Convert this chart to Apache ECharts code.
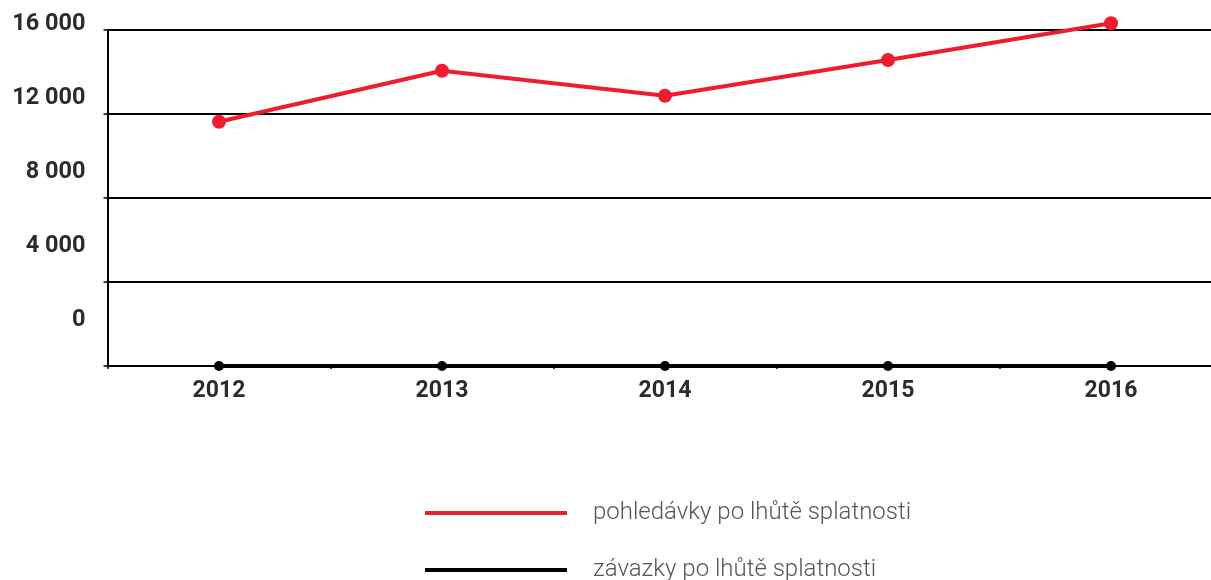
<!DOCTYPE html>
<html>
<head>
<meta charset="utf-8">
<script src="https://cdn.jsdelivr.net/npm/echarts@6/dist/echarts.min.js"></script>
<style>
html,body{margin:0;padding:0;background:#fff;}
#chart{width:1211px;height:580px;}
</style>
</head>
<body>
<div id="chart"></div>
<script>
const years = ['2012', '2013', '2014', '2015', '2016'];
const pohledavky = [11630, 14060, 12870, 14570, 16320];
const zavazky = [0, 0, 0, 0, 0];
const seriesNames = ['pohledávky po lhůtě splatnosti', 'závazky po lhůtě splatnosti'];
const yMin = 0, yMax = 16000, yStep = 4000;

const chart = echarts.init(document.getElementById('chart'), null, {renderer: 'canvas'});
const font = 'Roboto, "Noto Sans", sans-serif';
const legendBase = {
  orient: 'vertical',
  left: 420,
  itemWidth: 142,
  itemHeight: 4,
  icon: 'rect',
  textStyle: {
    fontFamily: font, fontSize: 24, fontWeight: 300, color: '#555555',
    lineHeight: 26, padding: [0, 0, 0, 21]
  }
};
chart.setOption({
  animation: false,
  backgroundColor: '#ffffff',
  grid: [
    {left: 107.5, top: 30, width: 1115, height: 336, containLabel: false, outerBoundsMode: 'none'},
    {left: 107.5, top: 24, width: 1115, height: 296, containLabel: false, outerBoundsMode: 'none'}
  ],
  legend: [
    Object.assign({}, legendBase, {top: 495, data: [seriesNames[0]]}),
    Object.assign({}, legendBase, {top: 552, data: [seriesNames[1]]})
  ],
  xAxis: [
    {
      type: 'category', gridIndex: 0, data: years, boundaryGap: true,
      axisLine: {show: true, lineStyle: {color: '#000', width: 2}},
      axisTick: {show: true, length: 3, lineStyle: {color: '#000', width: 1.5}},
      axisLabel: {margin: 14, fontFamily: font, fontSize: 23, fontWeight: 'bold', color: '#2b2b2b'},
      splitLine: {show: false}
    },
    {
      type: 'category', gridIndex: 1, data: years, show: false
    }
  ],
  yAxis: [
    {
      type: 'value', gridIndex: 0, min: yMin, max: yMax, interval: yStep,
      axisLine: {show: true, lineStyle: {color: '#000', width: 2}},
      axisTick: {show: true, length: 4, lineStyle: {color: '#000', width: 1.5}},
      axisLabel: {show: false},
      splitLine: {show: true, lineStyle: {color: '#000', width: 2}}
    },
    {
      type: 'value', gridIndex: 1, min: yMin, max: yMax, interval: yStep,
      axisLine: {show: false}, axisTick: {show: false}, splitLine: {show: false},
      axisLabel: {
        margin: 22, fontFamily: font, fontSize: 23.5, fontWeight: 'bold', color: '#2b2b2b',
        formatter: v => String(v).replace(/\B(?=(\d{3})+(?!\d))/g, ' ')
      }
    }
  ],
  series: [
    {
      name: seriesNames[0], type: 'line', xAxisIndex: 0, yAxisIndex: 0,
      data: pohledavky, clip: false, z: 3,
      color: '#ED1C2E',
      lineStyle: {color: '#ED1C2E', width: 4},
      itemStyle: {color: '#ED1C2E'},
      symbol: 'circle', symbolSize: 14, showSymbol: true
    },
    {
      name: seriesNames[1], type: 'line', xAxisIndex: 0, yAxisIndex: 0,
      data: zavazky, clip: false, z: 4,
      color: '#000000',
      lineStyle: {color: '#000000', width: 4},
      itemStyle: {color: '#000000'},
      symbol: 'circle', symbolSize: 10, showSymbol: true
    }
  ]
});
</script>
</body>
</html>
